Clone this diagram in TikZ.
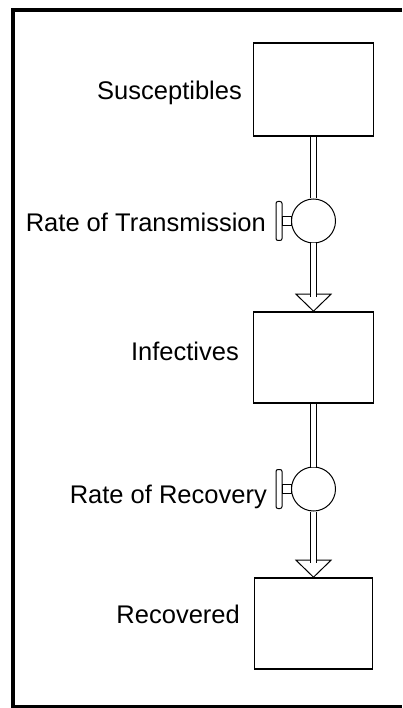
\documentclass[tikz,border=0pt]{standalone}
\usepackage{fontspec}
\setmainfont{Liberation Sans}
\usetikzlibrary{calc}
\begin{document}
\begin{tikzpicture}[x=1pt,y=-1pt,
  stock/.style={draw,line width=1.6pt,rectangle,inner sep=0pt},
  valve/.style={draw,line width=1pt,circle,minimum size=44pt,inner sep=0pt},
  lbl/.style={anchor=base east,inner sep=0pt,font=\fontsize{25.5}{30}\selectfont},
  pipe/.style={draw,double,line width=1pt,double distance=5.5pt},
  head/.style={draw,line width=1pt,fill=white}]
\useasboundingbox (0,0) rectangle (402,708);
\fill[white] (0,0) rectangle (402,708);
% frame
\draw[line width=4pt] (402,10) -- (13,10) -- (13,706.5) -- (402,706.5);
% stocks
\node[stock,minimum width=120pt,minimum height=93pt] (S) at (313.5,89.5) {};
\node[stock,minimum width=120pt,minimum height=91pt] (I) at (313.5,357.5) {};
\node[stock,minimum width=118pt,minimum height=91pt] (R) at (313.5,623.5) {};
% valves
\node[valve] (V1) at (313.5,221) {};
\node[valve] (V2) at (313.5,489) {};
% labels
\node[lbl] (LS) at (242,100) {Susceptibles};
\node[lbl] (LT) at (266,232) {Rate of Transmission};
\node[lbl] (LI) at (239,360) {Infectives};
\node[lbl] (LV) at (267,503) {Rate of Recovery};
\node[lbl] (LR) at (240,623) {Recovered};
% arrowheads
\coordinate (T1) at ($(I.north)+(0,-17)$);
\coordinate (T2) at ($(R.north)+(0,-17)$);
\foreach \v/\s/\t/\tip in {V1/S/T1/I, V2/I/T2/R}{
  \draw[pipe] (\s.south) -- (\v.north);
  \draw[head] (\tip.north) -- ++(-17.5,-17) -- ++(35,0) -- cycle;
  \draw[pipe] (\v.south) -- ($(\t)+(0,3)$);
  % handle
  \draw[line width=1pt,fill=white] ($(\v.west)+(-9,-4.5)$) rectangle ($(\v.west)+(0,4.5)$);
  \draw[line width=1pt,rounded corners=2pt] ($(\v.west)+(-15,-19.5)$) rectangle ($(\v.west)+(-9,19.5)$);
}
\end{tikzpicture}
\end{document}
